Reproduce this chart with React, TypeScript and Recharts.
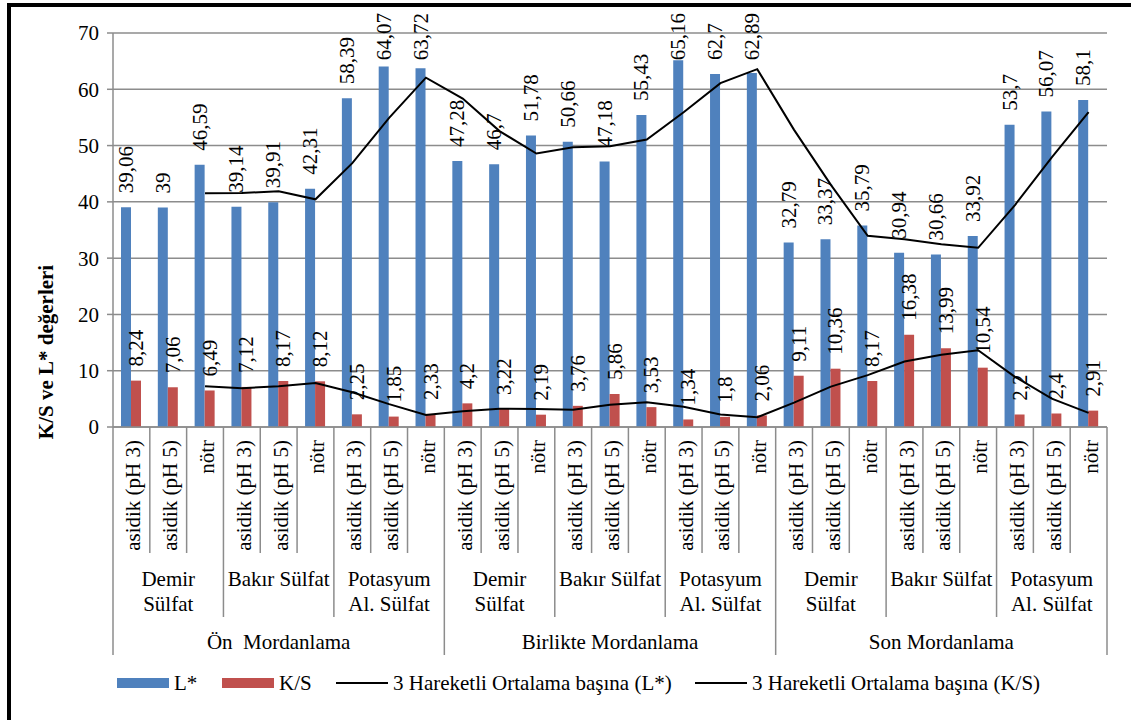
import { ComposedChart, Bar, Line, XAxis, YAxis, CartesianGrid, LabelList } from 'recharts';

// treatment levels for the three-row x axis
const phLabels = ['asidik (pH 3)', 'asidik (pH 5)', 'nötr'];
const saltLabels = [['Demir', 'Sülfat'], ['Bakır Sülfat'], ['Potasyum', 'Al. Sülfat']];
const stageLabels = ['Ön\u00a0 Mordanlama', 'Birlikte Mordanlama', 'Son Mordanlama'];

const lValues = [
    39.06, 39, 46.59, 39.14, 39.91, 42.31, 58.39, 64.07, 63.72,
    47.28, 46.7, 51.78, 50.66, 47.18, 55.43, 65.16, 62.7, 62.89,
    32.79, 33.37, 35.79, 30.94, 30.66, 33.92, 53.7, 56.07, 58.1,
];
const ksValues = [
    8.24, 7.06, 6.49, 7.12, 8.17, 8.12, 2.25, 1.85, 2.33,
    4.2, 3.22, 2.19, 3.76, 5.86, 3.53, 1.34, 1.8, 2.06,
    9.11, 10.36, 8.17, 16.38, 13.99, 10.54, 2.2, 2.4, 2.91,
];
// 3-period moving average trendlines as drawn in the chart
const lAverage = [
    null, null, 41.55, 41.58, 41.88, 40.45, 46.87, 54.92, 62.06,
    58.36, 52.57, 48.59, 49.71, 49.87, 51.09, 55.92, 61.1, 63.58,
    52.79, 43.02, 33.98, 33.37, 32.46, 31.84, 39.43, 47.9, 55.96,
];
const ksAverage = [
    null, null, 7.26, 6.89, 7.26, 7.8, 6.18, 4.07, 2.14,
    2.79, 3.25, 3.2, 3.06, 3.94, 4.38, 3.58, 2.22, 1.73,
    4.32, 7.18, 9.21, 11.64, 12.85, 13.64, 8.91, 5.05, 2.5,
];

const data = lValues.map((l, i) => ({
    name: phLabels[i % 3],
    l,
    ks: ksValues[i],
    lAvg: lAverage[i],
    ksAvg: ksAverage[i],
}));

const FONT = 'Liberation Serif';
const GRAY = '#8c8c8c';
const PLOT_LEFT = 113;
const PLOT_RIGHT = 1107;
const PLOT_BOTTOM = 427;
const LABEL_TOP = 13; // labels never go above this line
const BAND = (PLOT_RIGHT - PLOT_LEFT) / data.length;

const fmt = (v: number) => String(v).replace('.', ',');
// rough text length of a number label at 21px (digits ~0.5em, comma ~0.25em)
const labelLen = (s: string) => s.split('').reduce((acc, ch) => acc + (ch === ',' ? 5.25 : 10.5), 0);

function CategoryTick(props: any) {
    const { x, payload } = props;
    const i = props.index ?? payload.index;
    const left = x - BAND / 2;
    const sepLen = i % 9 === 0 ? 228 : i % 3 === 0 ? 190 : 126;
    const salt = saltLabels[Math.floor(i / 3) % 3];
    return (
        <g style={{ fontFamily: FONT }} fill="#000">
            <line x1={left} x2={left} y1={PLOT_BOTTOM} y2={PLOT_BOTTOM + sepLen} stroke={GRAY} strokeWidth={1.5} />
            {i === data.length - 1 && (
                <line x1={x + BAND / 2} x2={x + BAND / 2} y1={PLOT_BOTTOM} y2={PLOT_BOTTOM + 228} stroke={GRAY} strokeWidth={1.5} />
            )}
            <text x={x + 2} y={440} transform={`rotate(-90 ${x + 2} 440)`} textAnchor="end" dominantBaseline="central" fontSize={21}>
                {payload.value}
            </text>
            {i % 3 === 1 && salt.map((line, k) => (
                <text key={k} x={x} y={579 + k * 25} textAnchor="middle" dominantBaseline="central" fontSize={21}>
                    {line}
                </text>
            ))}
            {i % 9 === 4 && (
                <text x={x} y={642} textAnchor="middle" dominantBaseline="central" fontSize={21}>
                    {stageLabels[Math.floor(i / 9)]}
                </text>
            )}
        </g>
    );
}

function BarLabel(props: any) {
    const { x, y, width, value } = props.viewBox ?? props;
    const text = fmt(props.value ?? value);
    const cx = Number(x) + Number(width) / 2;
    let ty = Number(y) - 14;
    let anchor = 'start';
    if (ty - labelLen(text) < LABEL_TOP) {
        ty = LABEL_TOP;
        anchor = 'end';
    }
    return (
        <text x={cx} y={ty} transform={`rotate(-90 ${cx} ${ty})`} textAnchor={anchor} dominantBaseline="central"
            fontSize={21} style={{ fontFamily: FONT }} fill="#000">
            {text}
        </text>
    );
}

const legendItems = [
    { label: 'L*', kind: 'rect', color: '#4F81BD', left: 117 },
    { label: 'K/S', kind: 'rect', color: '#C0504D', left: 222 },
    { label: '3 Hareketli Ortalama başına (L*)', kind: 'line', color: '#000', left: 336 },
    { label: '3 Hareketli Ortalama başına (K/S)', kind: 'line', color: '#000', left: 695 },
];

export default function App() {
    return (
        <div style={{ position: 'fixed', left: 0, top: 0, width: 1131, height: 720, overflow: 'hidden', background: '#fff', fontFamily: FONT }}>
            <div style={{ position: 'absolute', left: 7, top: 3, width: 1150, height: 740, border: '4px solid #000' }} />
            <div style={{ position: 'absolute', left: 0, top: 0 }}>
                <ComposedChart width={1131} height={720} data={data} barGap={0} style={{ fontFamily: FONT }}
                    margin={{ top: 33, right: 1131 - PLOT_RIGHT, left: 0, bottom: 65 }}>
                    <CartesianGrid vertical={false} stroke={GRAY} strokeWidth={1.5} />
                    <XAxis dataKey="name" interval={0} height={228} tickLine={false}
                        axisLine={{ stroke: GRAY, strokeWidth: 1.5 }} tick={<CategoryTick />} />
                    <YAxis width={PLOT_LEFT} domain={[0, 70]} ticks={[0, 10, 20, 30, 40, 50, 60, 70]}
                        tickSize={6} tickMargin={8} axisLine={{ stroke: GRAY, strokeWidth: 1.5 }}
                        tickLine={{ stroke: GRAY, strokeWidth: 1.5 }}
                        tick={{ fill: '#000', fontSize: 21, style: { fontFamily: FONT } }} />
                    <Bar dataKey="l" fill="#4F81BD" barSize={10} isAnimationActive={false}>
                        <LabelList dataKey="l" content={<BarLabel />} />
                    </Bar>
                    <Bar dataKey="ks" fill="#C0504D" barSize={10} isAnimationActive={false}>
                        <LabelList dataKey="ks" content={<BarLabel />} />
                    </Bar>
                    <Line dataKey="lAvg" type="linear" stroke="#000" strokeWidth={2} dot={false} isAnimationActive={false} />
                    <Line dataKey="ksAvg" type="linear" stroke="#000" strokeWidth={2} dot={false} isAnimationActive={false} />
                    <text x={46} y={352} transform="rotate(-90 46 352)" textAnchor="middle" dominantBaseline="central"
                        fontSize={21} fontWeight="bold" style={{ fontFamily: FONT }} fill="#000">
                        K/S ve L* değerleri
                    </text>
                </ComposedChart>
            </div>
            {legendItems.map((item) => (
                <div key={item.label} style={{ position: 'absolute', left: item.left, top: 670, height: 26, display: 'flex', alignItems: 'center', fontSize: 21, whiteSpace: 'nowrap' }}>
                    {item.kind === 'rect'
                        ? <span style={{ display: 'inline-block', width: 52, height: 10, background: item.color }} />
                        : <span style={{ display: 'inline-block', width: 52, height: 2, background: item.color }} />}
                    <span style={{ marginLeft: 5 }}>{item.label}</span>
                </div>
            ))}
        </div>
    );
}
